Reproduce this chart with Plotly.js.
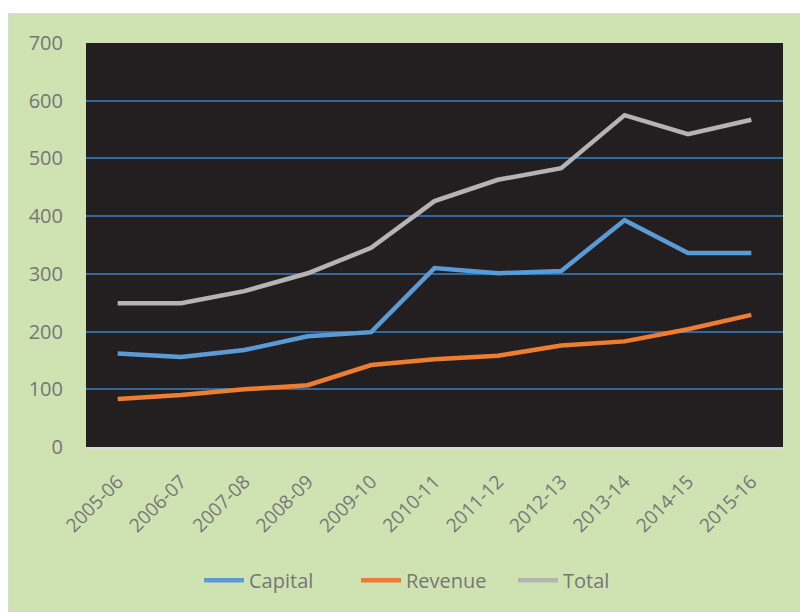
<!DOCTYPE html>
<html>
<head>
<meta charset="utf-8">
<script src="https://cdn.plot.ly/plotly-3.0.1.min.js"></script>
<style>
html,body{margin:0;padding:0;background:#ffffff;}
#wrap{position:absolute;left:8px;top:13px;width:792px;height:599px;border-top:1px solid #d9d9d9;border-left:1px solid #d9d9d9;}
#chart{width:791px;height:598px;}
</style>
</head>
<body>
<div id="wrap"><div id="chart"></div></div>
<script>
const years = ["2005-06","2006-07","2007-08","2008-09","2009-10","2010-11","2011-12","2012-13","2013-14","2014-15","2015-16"];
const capital = [162, 156, 168, 192, 199, 310, 301, 305, 393, 336, 336];
const revenue = [83, 90, 100, 107, 142, 152, 158, 176, 183, 204, 229];
const total = [249, 249, 270, 301, 345, 426, 463, 483, 575, 542, 567];

const fontFam = "Open Sans, Liberation Sans, sans-serif";
const traces = [
  {x: years, y: capital, name: "Capital", type: "scatter", mode: "lines", line: {color: "#5b9bd5", width: 4.5}},
  {x: years, y: revenue, name: "Revenue", type: "scatter", mode: "lines", line: {color: "#ed7d31", width: 4.5}},
  {x: years, y: total, name: "Total", type: "scatter", mode: "lines", line: {color: "#b4b4b4", width: 4.5}}
];
const layout = {
  width: 791, height: 598,
  paper_bgcolor: "#cfe3b2",
  plot_bgcolor: "#231f20",
  margin: {l: 77, r: 17, t: 29, b: 165},
  showlegend: true,
  legend: {orientation: "h", x: 0.5, xanchor: "center", y: -0.33, yanchor: "middle",
           font: {family: fontFam, size: 20, color: "#767676"}, bgcolor: "rgba(0,0,0,0)",
           itemwidth: 40, entrywidth: 102, entrywidthmode: "pixels"},
  xaxis: {type: "category", range: [-0.5, 10.5], tickangle: -45, showgrid: false, zeroline: false,
          showline: true, linecolor: "#d9d9d9", linewidth: 2, ticks: "", ticklabelstandoff: 14,
          tickfont: {family: fontFam, size: 19, color: "#767676"}},
  yaxis: {range: [0, 700], dtick: 100, showgrid: true, gridcolor: "#2e6aa0", gridwidth: 2,
          zeroline: false, showline: false, ticks: "", ticklabelstandoff: 22,
          tickfont: {family: fontFam, size: 20, color: "#767676"}},
  font: {family: fontFam}
};
Plotly.newPlot("chart", traces, layout, {displayModeBar: false, staticPlot: true});
</script>
</body>
</html>
